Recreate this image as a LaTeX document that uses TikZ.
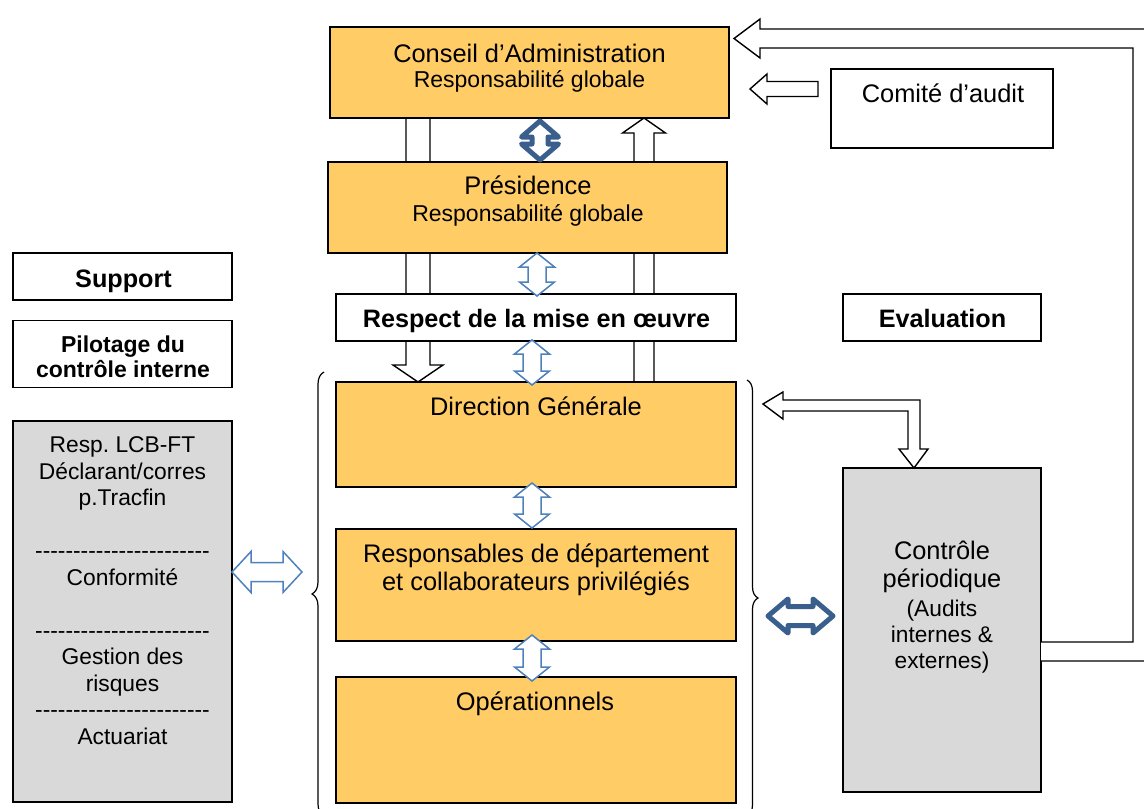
\documentclass[tikz,border=0pt]{standalone}
\usepackage{fontspec}
\setmainfont{Liberation Sans}
\usetikzlibrary{calc,decorations.pathreplacing}
\pgfdeclarelayer{background}
\pgfsetlayers{background,main}
\definecolor{boxorange}{HTML}{FFCC66}
\definecolor{boxgray}{HTML}{D9D9D9}
\definecolor{darkblue}{HTML}{3A5F8C}
\definecolor{lightblue}{HTML}{4F81BD}
\frenchspacing
\newcommand\mydash{\mbox{-}}
\newcommand\mydashfive{\mydash\mydash\mydash\mydash\mydash}
\newcommand\mydashrow{\mydashfive\mydashfive\mydashfive\mydashfive\mydash\mydash\mydash}
% vertical double arrow: style, x-ref point, top tip point, bottom tip point, head half, body half, head length
\newcommand\vdblarrow[7]{%
  \path[#1] let \p3=(#2), \p1=(#3), \p2=(#4) in
    (\x3,\y1) -- (\x3+#5pt,\y1-#7pt) -- (\x3+#6pt,\y1-#7pt) -- (\x3+#6pt,\y2+#7pt)
    -- (\x3+#5pt,\y2+#7pt) -- (\x3,\y2) -- (\x3-#5pt,\y2+#7pt) -- (\x3-#6pt,\y2+#7pt)
    -- (\x3-#6pt,\y1-#7pt) -- (\x3-#5pt,\y1-#7pt) -- cycle;}
% horizontal double arrow: style, y-ref point, left tip point, right tip point, head half, body half, head length
\newcommand\hdblarrow[7]{%
  \path[#1] let \p3=(#2), \p1=(#3), \p2=(#4) in
    (\x1,\y3) -- (\x1+#7pt,\y3+#5pt) -- (\x1+#7pt,\y3+#6pt) -- (\x2-#7pt,\y3+#6pt)
    -- (\x2-#7pt,\y3+#5pt) -- (\x2,\y3) -- (\x2-#7pt,\y3-#5pt) -- (\x2-#7pt,\y3-#6pt)
    -- (\x1+#7pt,\y3-#6pt) -- (\x1+#7pt,\y3-#5pt) -- cycle;}
\begin{document}
\begin{tikzpicture}[x=1pt,y=-1pt,
  boxframe/.style={draw=black, line width=1.5pt, inner sep=0pt, outer sep=0pt},
  orangebox/.style={boxframe, fill=boxorange},
  graybox/.style={boxframe, fill=boxgray},
  whitebox/.style={boxframe, fill=white},
  txt/.style={inner sep=0pt, outer sep=0pt, align=center},
  bigfont/.style={font=\fontsize{25.4}{28}\selectfont},
  subfont/.style={font=\fontsize{23}{26}\selectfont},
  smallfont/.style={font=\fontsize{22.8}{26.5}\selectfont},
  cpsmall/.style={font=\fontsize{22.7}{26}\selectfont},
  boldfont/.style={font=\fontsize{25.2}{28}\selectfont\bfseries},
  boldsmall/.style={font=\fontsize{23}{25}\selectfont\bfseries},
  hollow/.style={draw=black, line width=1.4pt, fill=white},
  lightarrow/.style={draw=lightblue, line width=1.5pt, fill=white},
  darkarrow/.style={draw=darkblue, line width=5pt, fill=white, line join=round},
  bracestyle/.style={draw=black, line width=1.2pt, decorate, decoration={brace, amplitude=#1}},
]
\useasboundingbox (0,0) rectangle (1144,809);

% boxes
\node[orangebox, minimum width=399pt, minimum height=91pt] (ca) at (529.5,72.5) {};
\node[orangebox, minimum width=399pt, minimum height=91pt] (pres) at (527.5,207.5) {};
\node[whitebox, minimum width=400pt, minimum height=47pt] (resp) at (536,317.5) {};
\node[orangebox, minimum width=400pt, minimum height=105pt] (dg) at (536,434.5) {};
\node[orangebox, minimum width=400pt, minimum height=112pt] (rdep) at (536,585) {};
\node[orangebox, minimum width=400pt, minimum height=126pt] (ops) at (536,740) {};
\node[whitebox, minimum width=222pt, minimum height=79pt] (comite) at (942,108.5) {};
\node[whitebox, minimum width=198pt, minimum height=47pt] (eval) at (942,317.5) {};
\node[graybox, minimum width=198pt, minimum height=324pt] (cp) at (942,630) {};
\node[whitebox, minimum width=219pt, minimum height=47pt] (support) at (122.5,276.5) {};
\node[whitebox, minimum width=219pt, minimum height=67pt] (pilot) at (122.5,354) {};
\node[graybox, minimum width=219pt, minimum height=381pt] (gray) at (122.5,611.5) {};

% hollow arrows behind the boxes
\begin{pgfonlayer}{background}
\path[hollow] let \p1=($(ca.south)+(-111.5,0)$), \p2=(dg.north) in
  (\x1-12pt,\y1) -- (\x1-12pt,\y2+17pt) -- (\x1-25pt,\y2+17pt) -- (\x1,\y2)
  -- (\x1+25pt,\y2+17pt) -- (\x1+12pt,\y2+17pt) -- (\x1+12pt,\y1) -- cycle;
\path[hollow] let \p1=($(ca.south)+(114.5,0)$), \p2=(dg.north) in
  (\x1,\y1) -- (\x1+21.5pt,\y1-15pt) -- (\x1+10pt,\y1-15pt) -- (\x1+10pt,\y2)
  -- (\x1-10pt,\y2) -- (\x1-10pt,\y1-15pt) -- (\x1-21.5pt,\y1-15pt) -- cycle;
\end{pgfonlayer}

% texts
\node[txt,bigfont,anchor=base] (caT) at (529.5,62) {Conseil d’Administration};
\node[txt,subfont,anchor=base] (caS) at (529.5,87) {Responsabilité globale};
\node[txt,bigfont,anchor=base] (presT) at (528,194) {Présidence};
\node[txt,subfont,anchor=base] (presS) at (528,221) {Responsabilité globale};
\node[txt,boldfont,anchor=base] (respT) at (536.5,327) {Respect de la mise en œuvre};
\node[txt,bigfont,anchor=base] (dgT) at (536,415) {Direction Générale};
\node[txt,bigfont,anchor=north] (rdepT) at (536,544) {Responsables de département\\et collaborateurs privilégiés};
\node[txt,bigfont,anchor=base] (opsT) at (535,710) {Opérationnels};
\node[txt,bigfont,anchor=base] (comiteT) at (943,102) {Comité d’audit};
\node[txt,boldfont,anchor=base] (evalT) at (942.5,327) {Evaluation};
\node[txt,boldfont,anchor=base] (supportT) at (123.5,287) {Support};
\node[txt,boldsmall,anchor=north] (pilotT) at (123,335.5) {Pilotage du\\contrôle interne};
\node[txt,smallfont,anchor=north] (grayT) at (122.5,436.7) {Resp. LCB-FT\\Déclarant/corres\\p.Tracfin\\[26.5pt]\mydashrow\\Conformité\\[26.5pt]\mydashrow\\Gestion des\\risques\\\mydashrow\\Actuariat};
\node[txt,bigfont,anchor=north] (cpT) at (942,541.4) {Contrôle\\périodique};
\node[txt,cpsmall,anchor=north] (cpS) at (942,600.5) {(Audits\\internes \&\\externes)};

% braces
\draw[bracestyle=12pt] (324,816) -- (324,372);
\draw[bracestyle=11pt] (747,380) -- (747,816);

% big elbow arrow from controle periodique to conseil
\path[hollow] let \p1=(cp.east), \p2=($(ca.east)+(5,-34)$) in
  (\x1,\y1-12pt) -- (\x1+92pt,\y1-12pt) -- (\x1+92pt,\y2-9.5pt) -- (\x2+26pt,\y2-9.5pt)
  -- (\x2+26pt,\y2-19.5pt) -- (\x2,\y2) -- (\x2+26pt,\y2+19.5pt) -- (\x2+26pt,\y2+9.5pt)
  -- (\x1+125pt,\y2+9.5pt) -- (\x1+125pt,\y1-31pt) -- (\x1,\y1-31pt);

% comite -> conseil
\path[hollow] let \p1=($(comite.west)+(-13,-19.5)$), \p2=($(ca.east)+(21,0)$) in
  (\x1,\y1+7.5pt) -- (\x2+17pt,\y1+7.5pt) -- (\x2+17pt,\y1+15pt) -- (\x2,\y1)
  -- (\x2+17pt,\y1-15pt) -- (\x2+17pt,\y1-7.5pt) -- (\x1,\y1-7.5pt) -- cycle;

% elbow between direction generale and controle periodique
\path[hollow] let \p1=($(dg.east)+(27,-30.5)$), \p2=($(cp.north)+(-28,0)$) in
  (\x1,\y1) -- (\x1+20pt,\y1+12pt) -- (\x1+20pt,\y1+4pt) -- (\x2+6pt,\y1+4pt)
  -- (\x2+6pt,\y2+19pt) -- (\x2+14pt,\y2+19pt) -- (\x2,\y2) -- (\x2-15pt,\y2+19pt)
  -- (\x2-6pt,\y2+19pt) -- (\x2-6pt,\y1-7pt) -- (\x1+20pt,\y1-7pt) -- (\x1+20pt,\y1-15pt) -- cycle;

% double arrows
\vdblarrow{darkarrow}{$(ca.south)+(10.5,0)$}{$(ca.south)+(0,3)$}{$(pres.north)+(0,-2)$}{18.5}{8}{16}
\vdblarrow{lightarrow}{$(pres.south)+(9.5,0)$}{pres.south}{$(resp.north)+(0,2)$}{17.5}{9}{14}
\vdblarrow{lightarrow}{$(resp.south)+(-4,0)$}{$(resp.south)+(0,-1)$}{$(dg.north)+(0,3)$}{17.5}{9}{14}
\vdblarrow{lightarrow}{$(dg.south)+(-4,0)$}{$(dg.south)+(0,-4)$}{$(rdep.north)+(0,-1)$}{17.5}{9}{14}
\vdblarrow{lightarrow}{$(rdep.south)+(-4,0)$}{$(rdep.south)+(0,-6)$}{$(ops.north)+(0,4)$}{17.5}{9}{14}
\hdblarrow{lightarrow}{$(gray.east)+(0,-39.5)$}{gray.east}{$(rdep.west)+(-34,0)$}{20.5}{9.5}{19}
\hdblarrow{darkarrow}{$(cp.west)+(0,-14)$}{$(rdep.east)+(32,0)$}{$(cp.west)+(-10,0)$}{17}{9.5}{20}
\end{tikzpicture}
\end{document}
